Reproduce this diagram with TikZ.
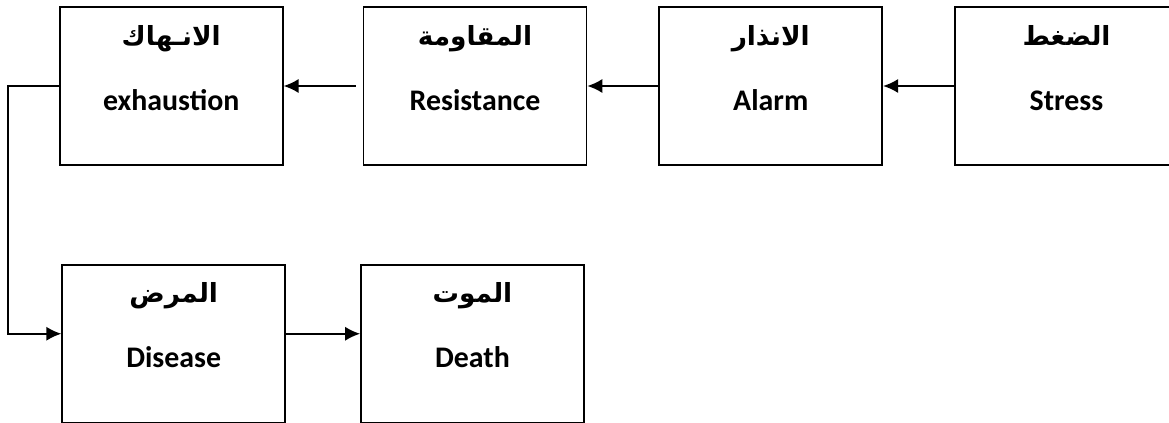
\documentclass[tikz,border=0pt]{standalone}
\usepackage{fontspec}
\setmainfont{Carlito}
\newfontfamily\arabicfont[Script=Arabic]{DejaVu Sans}
\TeXXeTstate=1
\usetikzlibrary{positioning,arrows.meta}

\tikzset{
  stage/.style={draw, line width=1pt, minimum width=4.46cm, minimum height=3.16cm, inner sep=0pt},
  ar/.style={anchor=base, yshift=-0.78cm, font=\arabicfont\bfseries\fontsize{15}{17}\selectfont},
  en/.style={anchor=base, yshift=-2.08cm, font=\bfseries\fontsize{17}{20}\selectfont}
}

\begin{document}
\begin{tikzpicture}[line width=1pt, -{Latex[length=8.5pt,width=8pt]}]
    \useasboundingbox (0,0) rectangle (23.38,-8.46);

    \node[stage, label={[ar]north:\beginR الضغط\endR}, label={[en]north:Stress}] (stress) at (21.33,-1.72) {};
    \node[stage, label={[ar]north:\beginR الانذار\endR}, label={[en]north:Alarm}] (alarm) [left=1.42cm of stress] {};
    \node[stage, label={[ar]north:\beginR المقاومة\endR}, label={[en]north:Resistance}] (res) [left=1.42cm of alarm] {};
    \node[stage, label={[ar]north:\beginR الانـهاك\endR}, label={[en]north:exhaustion}] (exh) [left=1.58cm of res] {};
    \node[stage, label={[ar]north:\beginR المرض\endR}, label={[en]north:Disease}] (dis) [below=1.96cm of exh, xshift=0.05cm] {};
    \node[stage, label={[ar]north:\beginR الموت\endR}, label={[en]north:Death}] (death) [right=1.48cm of dis] {};

    \coordinate (bend) at (0.16,-4);

    \path (stress) edge (alarm);
    \path (alarm) edge (res);
    \path (res) edge[shorten <=4pt] (exh);
    \draw (exh.west) -| (bend) |- ([yshift=0.2cm]dis.west);
    \path ([yshift=0.2cm]dis.east) edge ([yshift=0.2cm]death.west);

\end{tikzpicture}
\end{document}
